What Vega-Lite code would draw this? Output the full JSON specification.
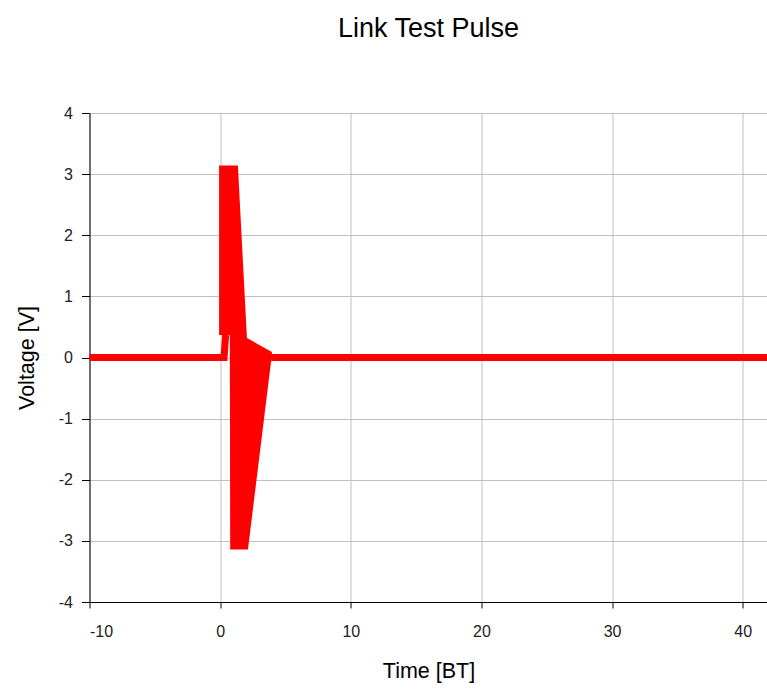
{
  "$schema": "https://vega.github.io/schema/vega-lite/v6.json",
  "width": 678,
  "height": 489,
  "autosize": {"type": "none"},
  "padding": {"left": 89.5, "top": 113, "right": 0, "bottom": 89},
  "background": "white",
  "title": {
    "text": "Link Test Pulse",
    "font": "Liberation Sans",
    "fontSize": 27,
    "fontWeight": "normal",
    "color": "black",
    "offset": 62
  },
  "config": {
    "view": {"stroke": null},
    "axis": {
      "labelFont": "Liberation Sans",
      "labelFontSize": 16,
      "labelColor": "#222222",
      "titleFont": "Liberation Sans",
      "titleFontSize": 21.5,
      "titleFontWeight": "normal",
      "titleColor": "black",
      "domainColor": "black",
      "tickColor": "black",
      "gridColor": "#c0c0c0",
      "gridWidth": 1,
      "labelExpr": "toString(datum.value)"
    }
  },
  "datasets": {
    "envelope": [
      {"t": -0.08, "upper": 3.14, "lower": 0.37},
      {"t": 0.74, "upper": 3.14, "lower": 0.37},
      {"t": 0.77, "upper": 3.14, "lower": -3.14},
      {"t": 1.36, "upper": 3.14, "lower": -3.14},
      {"t": 2.05, "upper": 0.32, "lower": -3.14},
      {"t": 2.13, "upper": 0.31, "lower": -3.14},
      {"t": 3.96, "upper": 0.09, "lower": 0.04}
    ],
    "baseline": [
      {"t": -12, "v": 0, "segment": "a"},
      {"t": 0.3, "v": 0, "segment": "a"},
      {"t": 0.42, "v": 0.37, "segment": "a"},
      {"t": 3.9, "v": 0, "segment": "b"},
      {"t": 45, "v": 0, "segment": "b"}
    ]
  },
  "layer": [
    {
      "data": {"name": "envelope"},
      "mark": {"type": "area", "color": "#ff0000", "clip": true, "opacity": 1},
      "encoding": {
        "x": {
          "field": "t",
          "type": "quantitative",
          "scale": {"domain": [-10, 41.9], "nice": false, "zero": false},
          "axis": {
            "values": [-10, 0, 10, 20, 30, 40],
            "title": "Time [BT]",
            "tickSize": 6,
            "labelPadding": 15,
            "titlePadding": 21,
            "grid": true
          }
        },
        "y": {
          "field": "upper",
          "type": "quantitative",
          "scale": {"domain": [-4, 4], "nice": false, "zero": false},
          "axis": {
            "values": [-4, -3, -2, -1, 0, 1, 2, 3, 4],
            "title": "Voltage [V]",
            "tickSize": 8,
            "labelPadding": 9,
            "titlePadding": 20,
            "grid": true
          }
        },
        "y2": {"field": "lower"}
      }
    },
    {
      "data": {"name": "baseline"},
      "mark": {"type": "line", "color": "#ff0000", "strokeWidth": 7, "clip": true},
      "encoding": {
        "x": {"field": "t", "type": "quantitative"},
        "y": {"field": "v", "type": "quantitative"},
        "detail": {"field": "segment"}
      }
    }
  ]
}
